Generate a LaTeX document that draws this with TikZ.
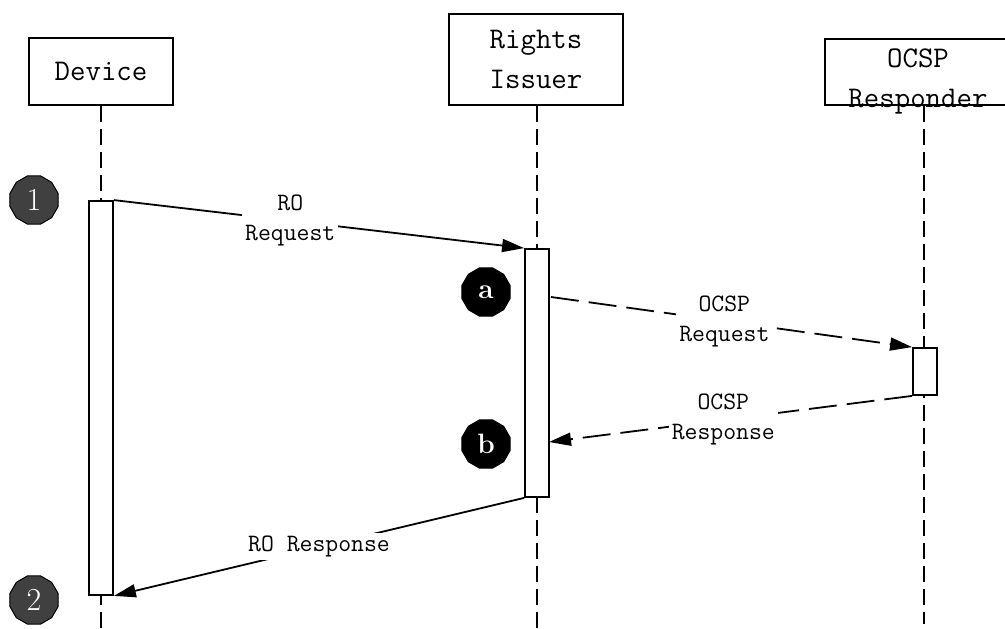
\documentclass[tikz,border=0pt]{standalone}
\usepackage{tikz}
\usetikzlibrary{arrows.meta,shapes.geometric}
\tikzset{
	actor/.style={draw, line width=1.8pt, fill=white, align=center, inner sep=0pt, font=\fontsize{30}{40}\selectfont\ttfamily},
	bar/.style={draw, line width=1.8pt, fill=white, minimum width=24pt, inner sep=0pt},
	life/.style={line width=1.8pt, dash pattern=on 16pt off 7pt},
	msg/.style={line width=1.8pt, -{Triangle[length=22pt,width=13pt]}},
	dmsg/.style={msg, dash pattern=on 28pt off 10pt},
	msglbl/.style={fill=white, align=center, inner sep=3pt, font=\fontsize{25}{30}\selectfont\ttfamily},
	badge/.style={draw, line width=1pt, regular polygon, regular polygon sides=12, minimum size=50pt, inner sep=0pt, text=white}
}

\begin{document}
\begin{tikzpicture}[x=1pt, y=-1pt]
			%%%%% START %%%%%
			\useasboundingbox (0,0) rectangle (1005,629);
			
			\node[actor, minimum width=144pt, minimum height=67pt] (dev) at (101,71.5) {Device};
			\node[actor, minimum width=174pt, minimum height=91pt] (ri) at (536,59.5) {Rights\\Issuer};
			\node[actor, minimum width=198pt, minimum height=66pt] (ocsp) at (924,72) {};
			\node[actor, draw=none, fill=none] (ocsptxt) at (918,81) {OCSP\\Responder};
			
			\coordinate (devend) at (101,629);
			\coordinate (riend) at (537,629);
			\coordinate (ocspend) at (924,624);
			
			\draw[life] (dev.south) -- (devend);
			\draw[life] (ri.south -| riend) -- (riend);
			\draw[life] (ocsp.south) -- (ocspend);
			
			\node[bar, minimum height=394pt] (deva) at (101,398) {};
			\node[bar, minimum height=248pt] (ria) at (537,373) {};
			\node[bar, minimum height=47pt] (ocspa) at (925,371.5) {};
			
			\coordinate (rireq) at (551,297);
			\coordinate (rirsp) at (549,442);
			
			\draw[msg] (deva.north east) -- node[msglbl, pos=0.43] (roreq) {RO\\Request} (ria.north west);
			\draw[dmsg] (rireq) -- node[msglbl, pos=0.48] (ocspreq) {OCSP\\Request} (ocspa.north west);
			\draw[dmsg] (ocspa.south west) -- node[msglbl, pos=0.52] (ocsprsp) {OCSP\\Response} (rirsp);
			\draw[msg] (ria.south west) -- node[msglbl, pos=0.5] (rorsp) {RO Response} (deva.south east);
			
			\node[badge, fill=black!75, font=\fontsize{32}{32}\selectfont] (m1) at (34,200) {1};
			\node[badge, fill=black!75, font=\fontsize{32}{32}\selectfont] (m2) at (34,600) {2};
			\node[badge, fill=black, font=\fontsize{28}{28}\selectfont\bfseries] (ma) at (486,292) {a};
			\node[badge, fill=black, font=\fontsize{28}{28}\selectfont\bfseries] (mb) at (486,444) {b};
			
			%%%%% END %%%%%
		\end{tikzpicture}
\end{document}
